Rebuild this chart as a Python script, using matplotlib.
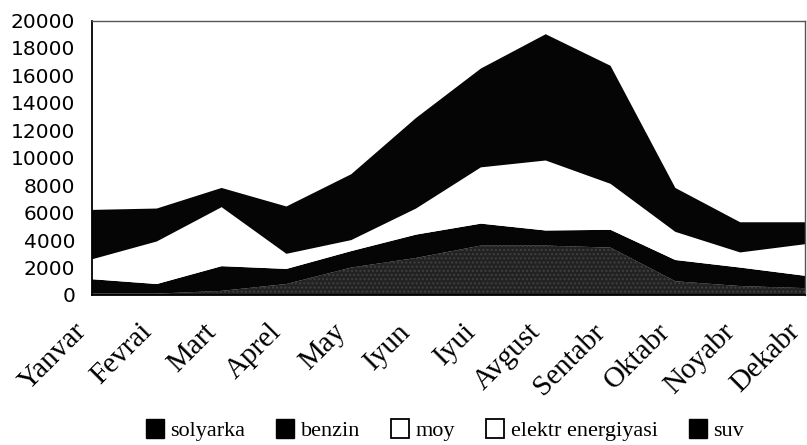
import matplotlib
matplotlib.use("Agg")
import matplotlib.pyplot as plt
from matplotlib.patches import Patch
import numpy as np

months = ["Yanvar", "Fevrai", "Mart", "Aprel", "May", "Iyun",
          "Iyui", "Avgust", "Sentabr", "Oktabr", "Noyabr", "Dekabr"]

solyarka = [100, 100, 300, 800, 2000, 2700, 3600, 3600, 3450, 1000, 650, 500]
benzin = [1050, 700, 1800, 1100, 1200, 1700, 1600, 1100, 1300, 1550, 1350, 900]
moy = [300, 300, 400, 300, 300, 400, 500, 500, 400, 300, 200, 200]
elektr = [1150, 2800, 3900, 800, 500, 1500, 3600, 4600, 2950, 1750, 900, 2100]
suv = [3600, 2400, 1400, 3450, 4800, 6600, 7200, 9200, 8600, 3200, 2200, 1600]

series_names = ["solyarka", "benzin", "moy", "elektr energiyasi", "suv"]
y_ticks = list(range(0, 20001, 2000))

plt.rcParams["hatch.linewidth"] = 1.0

fig = plt.figure(figsize=(8.07, 4.45), dpi=100)
ax = fig.add_axes([92 / 807, 1 - 295 / 445, (805 - 92) / 807, (295 - 20.5) / 445])

x = np.arange(len(months))
polys = ax.stackplot(x, solyarka, benzin, moy, elektr, suv,
                     colors=["#222222", "#050505", "#ffffff", "#ffffff", "#050505"],
                     linewidth=0)
polys[0].set_hatch("....")
polys[0].set_edgecolor("#404040")
polys[0].set_linewidth(0)

ax.set_xlim(0, len(months) - 1)
ax.set_ylim(0, 20000)
ax.set_yticks(y_ticks)
ax.set_yticklabels([str(v) for v in y_ticks], fontfamily="DejaVu Sans", fontsize=14.5)
ax.set_xticks(x)
ax.set_xticklabels(months, rotation=45, ha="right", rotation_mode="default",
                   fontfamily="Liberation Serif", fontsize=21)
ax.tick_params(axis="y", length=0, pad=12)
ax.tick_params(axis="x", length=0, pad=17)

for side in ["top", "right"]:
    ax.spines[side].set_color("#555555")
    ax.spines[side].set_linewidth(1.0)
for side in ["left", "bottom"]:
    ax.spines[side].set_color("black")
    ax.spines[side].set_linewidth(1.3)

handles = [
    Patch(facecolor="black", edgecolor="black"),
    Patch(facecolor="black", edgecolor="black"),
    Patch(facecolor="white", edgecolor="black", linewidth=1.3),
    Patch(facecolor="white", edgecolor="black", linewidth=1.3),
    Patch(facecolor="black", edgecolor="black"),
]
fig.legend(handles, series_names, loc="center", bbox_to_anchor=(445 / 807, 1 - 430 / 445),
           ncol=5, frameon=False, prop={"family": "Liberation Serif", "size": 16},
           handlelength=0.8, handleheight=0.95, handletextpad=0.3, columnspacing=1.4)

fig.savefig("out.png", dpi=100)
